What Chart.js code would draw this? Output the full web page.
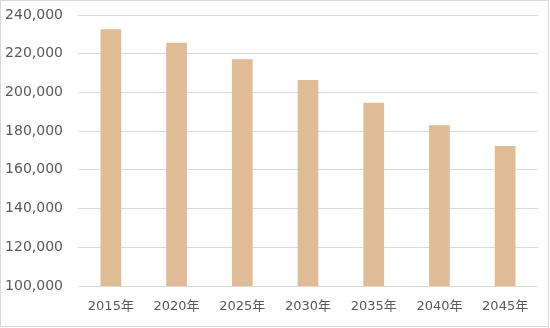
<!DOCTYPE html>
<html>
<head>
<meta charset="utf-8">
<script src="https://cdn.jsdelivr.net/npm/chart.js@4"></script>
<style>
  html, body { margin: 0; padding: 0; background: #fff; }
  .wrap { position: relative; width: 550px; height: 328px; }
  .frame { position: absolute; left: 0; top: 0; width: 549px; height: 327px; box-sizing: border-box; border: 1px solid #d9d9d9; }
  .chart { position: absolute; left: 0; top: 0; width: 550px; height: 328px; }
</style>
</head>
<body>
<div class="wrap">
  <div class="frame"></div>
  <div class="chart"><canvas id="population"></canvas></div>
</div>
<script>
const years = ["2015年", "2020年", "2025年", "2030年", "2035年", "2040年", "2045年"];
const population = [232600, 225700, 217100, 206400, 194700, 183100, 172300];
const yMin = 100000;
const yMax = 240000;
const yStep = 20000;

const fontFamily = "'DejaVu Sans', 'Noto Sans CJK JP'";

const ctx = document.getElementById("population");
new Chart(ctx, {
  type: "bar",
  data: {
    labels: years,
    datasets: [
      {
        data: population,
        backgroundColor: "#dfbc95",
        barPercentage: 0.315,
        categoryPercentage: 1,
      },
    ],
  },
  options: {
    responsive: true,
    maintainAspectRatio: false,
    animation: false,
    layout: {
      padding: { top: 15, right: 12, left: 0, bottom: 0 },
    },
    plugins: {
      legend: { display: false },
      tooltip: { enabled: false },
    },
    scales: {
      x: {
        grid: { display: false, drawTicks: false },
        border: { display: false },
        ticks: {
          color: "#595959",
          padding: 13,
          font: { family: fontFamily, size: 13 },
        },
        afterFit: (scale) => {
          scale.height = 42;
          scale.paddingLeft = 0;
          scale.paddingRight = 0;
        },
      },
      y: {
        min: yMin,
        max: yMax,
        grid: { color: "#d9d9d9", drawTicks: false },
        border: { display: false },
        ticks: {
          stepSize: yStep,
          color: "#595959",
          padding: 15,
          font: { family: fontFamily, size: 14 },
          callback: (value) => value.toLocaleString("en-US"),
        },
        afterFit: (scale) => {
          scale.width = 78;
          scale.paddingTop = 0;
          scale.paddingBottom = 0;
        },
      },
    },
  },
});
</script>
</body>
</html>
